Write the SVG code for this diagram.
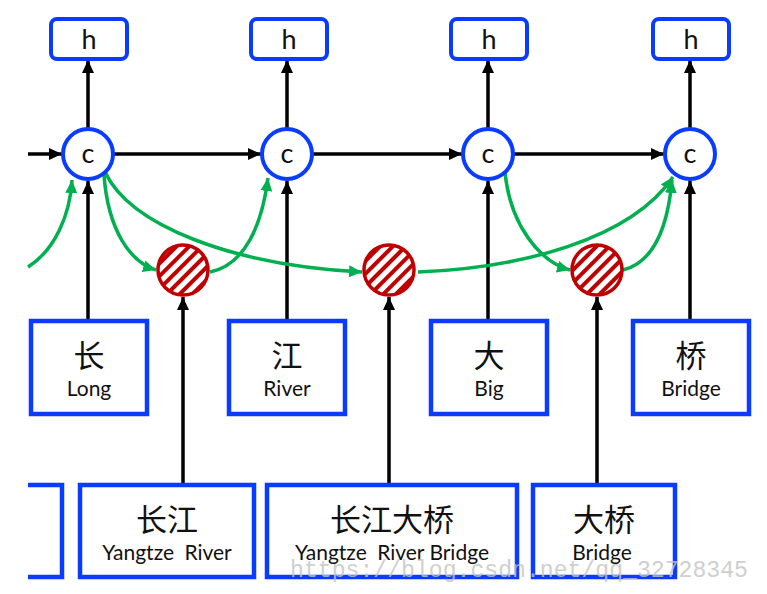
<svg xmlns="http://www.w3.org/2000/svg" width="767" height="594" viewBox="0 0 767 594">
<style>
.box{fill:#fff;stroke:#0a3cff;stroke-width:4.5}
.hbox{fill:#fff;stroke:#0a3cff;stroke-width:4}
.cell{fill:#fff;stroke:#0a3cff;stroke-width:4}
.gate{fill:url(#hatch);stroke:#c00000;stroke-width:3.5}
.blk{fill:none;stroke:#000;stroke-width:3.5;marker-end:url(#ab)}
.grn{fill:none;stroke:#00b050;stroke-width:3.5;marker-end:url(#ag)}
.lat{font-family:Lato,"Open Sans","Liberation Sans",sans-serif;fill:#111;text-anchor:middle}
.big{font-size:27px}
.cjk{font-family:"Noto Sans CJK SC","Noto Sans",sans-serif;fill:#111;text-anchor:middle;font-size:31px}
.en{font-size:21px;word-spacing:5px}
.wm{font-family:"Liberation Mono",monospace;fill:#c4c4c4;font-size:23px;opacity:0.8}
</style>
<defs>
<pattern id="hatch" patternUnits="userSpaceOnUse" width="9" height="9" patternTransform="rotate(45)">
<rect width="9" height="9" fill="#fff"/>
<rect width="4" height="9" fill="#c00000"/>
</pattern>
<marker id="ab" markerUnits="userSpaceOnUse" markerWidth="14" markerHeight="12" refX="13" refY="6" orient="auto">
<path d="M0,0 L13,6 L0,12 z" fill="#000"/>
</marker>
<marker id="ag" markerUnits="userSpaceOnUse" markerWidth="14" markerHeight="12" refX="13" refY="6" orient="auto">
<path d="M0,0 L13,6 L0,12 z" fill="#00b050"/>
</marker>
</defs>

<g id="connectors">
<line class="blk" x1="28" y1="154" x2="62" y2="154"/>
<line class="blk" x1="114" y1="154" x2="261" y2="154"/>
<line class="blk" x1="313" y1="154" x2="462" y2="154"/>
<line class="blk" x1="514" y1="154" x2="664" y2="154"/>
<line class="blk" x1="88" y1="128" x2="88" y2="60"/>
<line class="blk" x1="287" y1="128" x2="287" y2="60"/>
<line class="blk" x1="488" y1="128" x2="488" y2="60"/>
<line class="blk" x1="690" y1="128" x2="690" y2="60"/>
<line class="blk" x1="88" y1="319" x2="88" y2="181"/>
<line class="blk" x1="287" y1="319" x2="287" y2="181"/>
<line class="blk" x1="488" y1="319" x2="488" y2="181"/>
<line class="blk" x1="690" y1="319" x2="690" y2="181"/>
<line class="blk" x1="183" y1="483" x2="183" y2="297"/>
<line class="blk" x1="389" y1="483" x2="389" y2="297"/>
<line class="blk" x1="597" y1="483" x2="597" y2="297"/>
<path class="grn" d="M28,267 C55,250 70,215 72,180"/>
<path class="grn" d="M104,175 C108,230 130,262 156,270"/>
<path class="grn" d="M210,272 C245,265 262,225 268,178"/>
<path class="grn" d="M105,172 C130,225 230,265 362,272"/>
<path class="grn" d="M418,272 C520,268 630,240 673,177"/>
<path class="grn" d="M505,172 C510,225 540,262 570,270"/>
<path class="grn" d="M623,270 C655,262 668,225 672,180"/>
</g>

<g id="h1"><rect class="hbox" x="51" y="19" width="76" height="40" rx="6"/><text class="lat big" x="89" y="49">h</text></g>
<g id="h2"><rect class="hbox" x="251" y="19" width="76" height="40" rx="6"/><text class="lat big" x="289" y="49">h</text></g>
<g id="h3"><rect class="hbox" x="451" y="19" width="76" height="40" rx="6"/><text class="lat big" x="489" y="49">h</text></g>
<g id="h4"><rect class="hbox" x="653" y="19" width="76" height="40" rx="6"/><text class="lat big" x="691" y="49">h</text></g>

<g id="c1"><circle class="cell" cx="88" cy="154" r="25"/><text class="lat big" x="88" y="163">c</text></g>
<g id="c2"><circle class="cell" cx="287" cy="154" r="25"/><text class="lat big" x="287" y="163">c</text></g>
<g id="c3"><circle class="cell" cx="488" cy="154" r="25"/><text class="lat big" x="488" y="163">c</text></g>
<g id="c4"><circle class="cell" cx="690" cy="154" r="25"/><text class="lat big" x="690" y="163">c</text></g>

<g id="g1"><circle class="gate" cx="183" cy="270" r="25"/></g>
<g id="g2"><circle class="gate" cx="389" cy="270" r="25"/></g>
<g id="g3"><circle class="gate" cx="597" cy="270" r="25"/></g>

<g id="w1"><rect class="box" x="31" y="321" width="116" height="93"/><text class="cjk" x="89" y="367">长</text><text class="lat en" x="89" y="396">Long</text></g>
<g id="w2"><rect class="box" x="229" y="321" width="116" height="93"/><text class="cjk" x="287" y="367">江</text><text class="lat en" x="287" y="396">River</text></g>
<g id="w3"><rect class="box" x="431" y="321" width="116" height="93"/><text class="cjk" x="489" y="367">大</text><text class="lat en" x="489" y="396">Big</text></g>
<g id="w4"><rect class="box" x="633" y="321" width="116" height="93"/><text class="cjk" x="691" y="367">桥</text><text class="lat en" x="691" y="396">Bridge</text></g>

<g id="p0"><path class="box" d="M28,485 L62,485 L62,577 L28,577" fill="#fff"/></g>
<g id="p1"><rect class="box" x="80" y="485" width="174" height="92"/><text class="cjk" x="167" y="531">长江</text><text class="lat en" x="167" y="560">Yangtze River</text></g>
<g id="p2"><rect class="box" x="267" y="485" width="250" height="92"/><text class="cjk" x="392" y="531">长江大桥</text><text class="lat en" x="392" y="560" style="word-spacing:0">Yangtze<tspan dx="5"> River Bridge</tspan></text></g>
<g id="p3"><rect class="box" x="533" y="485" width="142" height="92"/><text class="cjk" x="604" y="531">大桥</text><text class="lat en" x="602" y="560">Bridge</text></g>

<text class="wm" x="290" y="577" textLength="458" lengthAdjust="spacingAndGlyphs">https://blog.csdn.net/qq_32728345</text>
</svg>
